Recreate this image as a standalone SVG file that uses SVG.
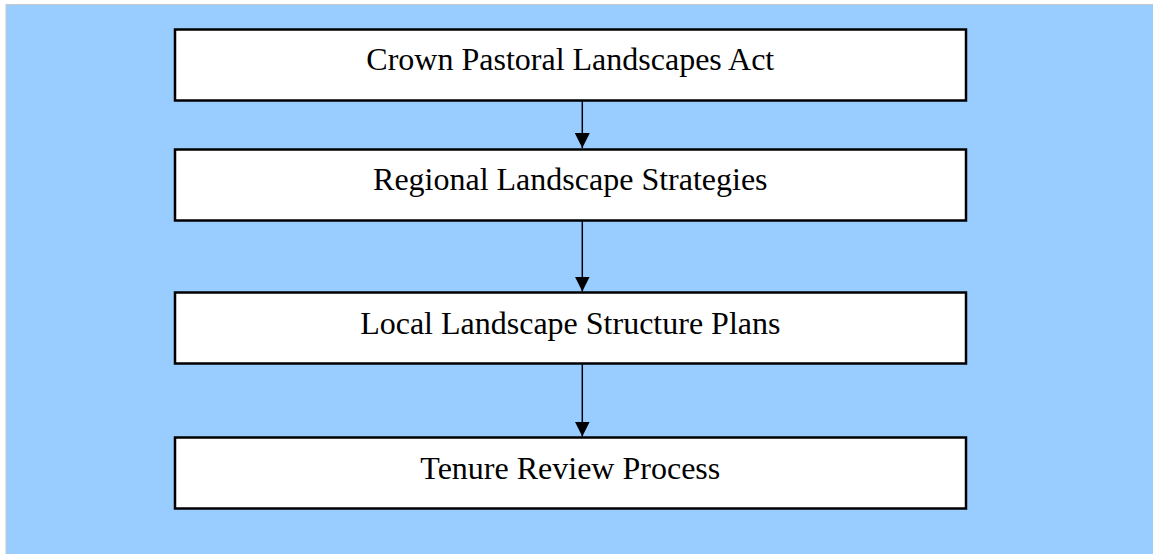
<svg xmlns="http://www.w3.org/2000/svg" width="1153" height="554" viewBox="0 0 1153 554">
<defs>
<style>
.box{fill:#ffffff;stroke:#000000;stroke-width:2.5}
.lbl{font-family:"Liberation Serif","Times New Roman",serif;font-size:32px;fill:#000000;text-anchor:middle}
.conn{stroke:#000000;stroke-width:1.5;fill:none}
</style>
<marker id="arr" markerUnits="userSpaceOnUse" markerWidth="16" markerHeight="15" refX="15" refY="7.5" orient="auto">
<path d="M0,0 L15,7.5 L0,15 Z" fill="#000000"/>
</marker>
</defs>
<rect x="0" y="0" width="1153" height="554" fill="#ffffff"/>
<rect x="6" y="4.5" width="1148" height="551" fill="#99CCFF" stroke="#c8c8c8" stroke-width="1"/>
<g id="connectors">
<line class="conn" x1="582.3" y1="101" x2="582.3" y2="148" marker-end="url(#arr)"/>
<line class="conn" x1="582.3" y1="221" x2="582.3" y2="291.5" marker-end="url(#arr)"/>
<line class="conn" x1="582.3" y1="364.5" x2="582.3" y2="436.5" marker-end="url(#arr)"/>
</g>
<g id="node1">
<rect class="box" x="175" y="29.5" width="791" height="71"/>
<text class="lbl" x="570.3" y="69.5">Crown Pastoral Landscapes Act</text>
</g>
<g id="node2">
<rect class="box" x="175" y="149.5" width="791" height="71"/>
<text class="lbl" x="570.3" y="190">Regional Landscape Strategies</text>
</g>
<g id="node3">
<rect class="box" x="175" y="292.5" width="791" height="71"/>
<text class="lbl" x="570.3" y="333.5">Local Landscape Structure Plans</text>
</g>
<g id="node4">
<rect class="box" x="175" y="437.5" width="791" height="71"/>
<text class="lbl" x="570.3" y="478.5">Tenure Review Process</text>
</g>
</svg>
